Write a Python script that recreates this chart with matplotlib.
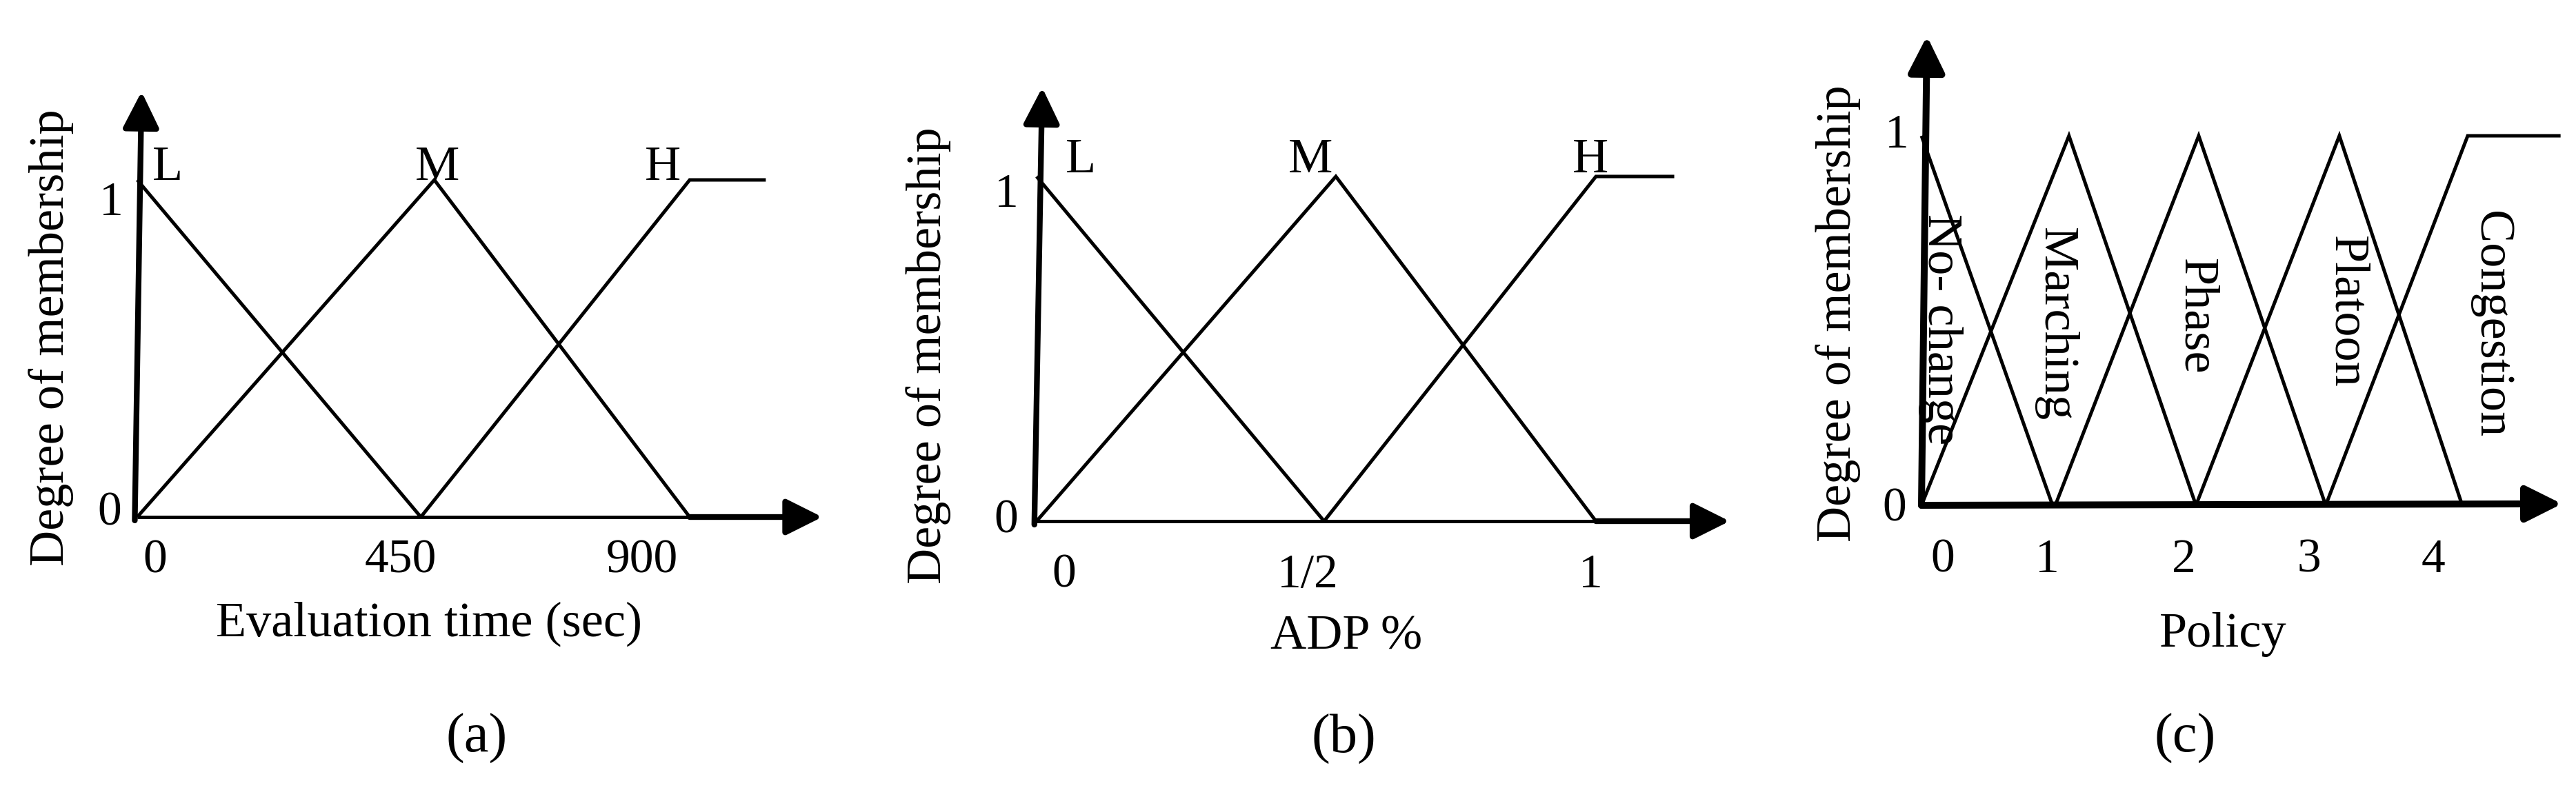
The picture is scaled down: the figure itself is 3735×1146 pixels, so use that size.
import matplotlib
matplotlib.use("Agg")
import matplotlib.pyplot as plt

W, H = 3735, 1146
DPI = 100

# (a) Evaluation time (sec)
a_low_x, a_low_y = [0, 462], [1, 0]
a_mid_x, a_mid_y = [0, 484, 900], [0, 1, 0]
a_high_x, a_high_y = [462, 900, 1024], [0, 1, 1]
a_tick_pos = [29, 429, 822]
a_tick_labels = ["0", "450", "900"]

# (b) ADP %
b_low_x, b_low_y = [0, 0.514], [1, 0]
b_mid_x, b_mid_y = [0, 0.535, 1.0], [0, 1, 0]
b_high_x, b_high_y = [0.514, 1.0, 1.14], [0, 1, 1]
b_tick_pos = [0.049, 0.485, 0.99]
b_tick_labels = ["0", "1/2", "1"]

# (c) Policy
c_names = ["No- change", "Marching", "Phase", "Platoon", "Congestion"]
c_x = [[0, 0.96], [0, 1.08, 2.01], [0.98, 2.03, 2.96], [2.01, 3.06, 3.96], [2.96, 4.0, 4.68]]
c_y = [[1, 0], [0, 1, 0], [0, 1, 0], [0, 1, 0], [0, 1, 1]]
c_name_pos = [(0.14, 0.476), (0.98, 0.489), (2.01, 0.511), (3.11, 0.524), (4.17, 0.489)]
c_tick_pos = [0.157, 0.92, 1.92, 2.84, 3.75]
c_tick_labels = ["0", "1", "2", "3", "4"]

LABEL = 52
TICK = 50
CAPTION = 58
THIN = 3.6
THICK = 6.0

plt.rcParams["font.family"] = ["Liberation Serif", "DejaVu Serif"]


def panel_axes(fig, origin, unit):
    """ Full-figure axes whose (0, 0) sits at the given pixel (from top-left) """
    ox, oy = origin
    sx, sy = unit
    ax = fig.add_axes([0, 0, 1, 1])
    ax.set_xlim(-ox / sx, (W - ox) / sx)
    ax.set_ylim((oy - H) / sy, oy / sy)
    ax.axis("off")
    ax.patch.set_alpha(0)
    return ax


def arrow(ax, start, end, lw):
    style = "-|>,head_length=32,head_width=16"
    ax.annotate("", xy=end, xytext=start,
                arrowprops=dict(arrowstyle=style, color="black", lw=lw,
                                shrinkA=0, shrinkB=0, mutation_scale=1))


def curve(ax, x, y):
    ax.plot(x, y, color="black", lw=THIN, solid_joinstyle="miter",
            solid_capstyle="butt")


fig = plt.figure(figsize=(W / DPI, H / DPI), dpi=DPI)
fig.patch.set_facecolor("white")

# ---- panel (a)
ax = panel_axes(fig, (199, 750), (0.89, 489))
for x, y in [(a_low_x, a_low_y), (a_mid_x, a_mid_y), (a_high_x, a_high_y)]:
    curve(ax, x, y)
ax.plot([0, 900], [0, 0], color="black", lw=THIN, solid_capstyle="butt")
arrow(ax, (900, 0), (1116, 0), THICK)
arrow(ax, (-4, -0.01), (7, 1.262), THICK)
for p, t in zip(a_tick_pos, a_tick_labels):
    ax.text(p, -0.131, t, fontsize=TICK, ha="center", va="center")
ax.text(-42, 0.93, "1", fontsize=TICK, ha="center", va="center")
ax.text(-45, 0.01, "0", fontsize=TICK, ha="center", va="center")
for p, t in zip([49, 489, 856], ["L", "M", "H"]):
    ax.text(p, 1.0, t, fontsize=LABEL, ha="center", va="baseline")
ax.text(-140, 0.532, "Degree of membership", fontsize=LABEL, rotation=90,
        ha="center", va="center")
ax.text(475, -0.317, "Evaluation time (sec)", fontsize=LABEL,
        ha="center", va="center")
ax.text(553, -0.658, "(a)", fontsize=CAPTION, ha="center", va="center")

# ---- panel (b)
ax = panel_axes(fig, (1503, 756), (811, 500))
for x, y in [(b_low_x, b_low_y), (b_mid_x, b_mid_y), (b_high_x, b_high_y)]:
    curve(ax, x, y)
ax.plot([0, 1.0], [0, 0], color="black", lw=THIN, solid_capstyle="butt")
arrow(ax, (1.0, 0), (1.239, 0), THICK)
arrow(ax, (-0.004, -0.01), (0.01, 1.258), THICK)
for p, t in zip(b_tick_pos, b_tick_labels):
    ax.text(p, -0.158, t, fontsize=TICK, ha="center", va="center")
ax.text(-0.054, 0.946, "1", fontsize=TICK, ha="center", va="center")
ax.text(-0.054, 0.0, "0", fontsize=TICK, ha="center", va="center")
for p, t in zip([0.079, 0.49, 0.99], ["L", "M", "H"]):
    ax.text(p, 1.012, t, fontsize=LABEL, ha="center", va="baseline")
ax.text(-0.194, 0.48, "Degree of membership", fontsize=LABEL, rotation=90,
        ha="center", va="center")
ax.text(0.554, -0.336, "ADP %", fontsize=LABEL, ha="center", va="center")
ax.text(0.549, -0.632, "(b)", fontsize=CAPTION, ha="center", va="center")

# ---- panel (c)
ax = panel_axes(fig, (2786, 733), (198, 536))
for x, y in zip(c_x, c_y):
    curve(ax, x, y)
arrow(ax, (0, 0), (4.69, 0.004), 7.2)
arrow(ax, (0, 0), (0.04, 1.27), 7.2)
for p, t in zip(c_tick_pos, c_tick_labels):
    ax.text(p, -0.149, t, fontsize=TICK, ha="center", va="center")
ax.text(-0.18, 1.0, "1", fontsize=TICK, ha="center", va="center")
ax.text(-0.2, -0.01, "0", fontsize=TICK, ha="center", va="center")
for (px, py), t in zip(c_name_pos, c_names):
    ax.text(px, py, t, fontsize=LABEL, rotation=-90, ha="center", va="center")
ax.text(-0.61, 0.52, "Degree of membership", fontsize=LABEL, rotation=90,
        ha="center", va="center")
ax.text(2.21, -0.35, "Policy", fontsize=LABEL, ha="center", va="center")
ax.text(1.93, -0.632, "(c)", fontsize=CAPTION, ha="center", va="center")

fig.savefig("out.png", dpi=DPI, facecolor="white")
